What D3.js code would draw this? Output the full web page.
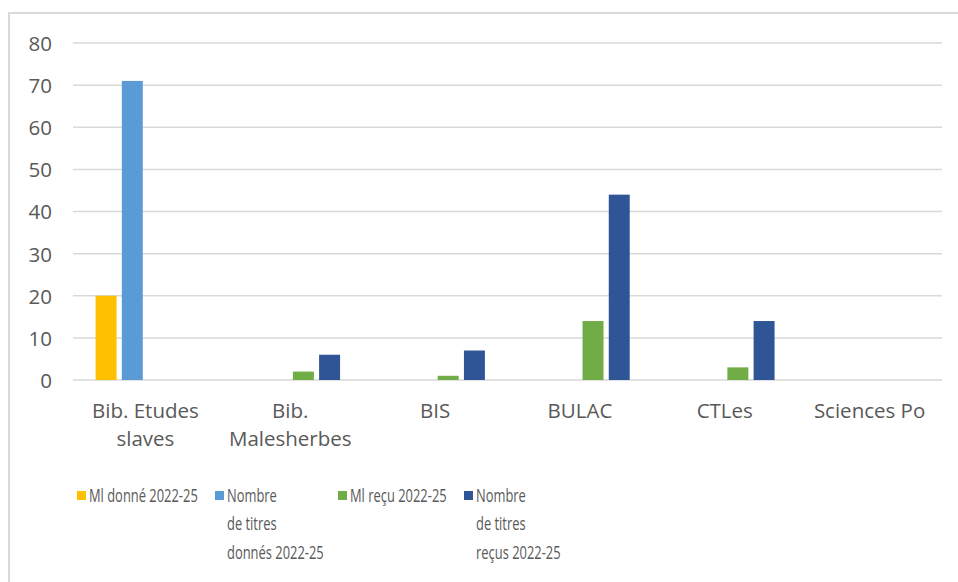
<!DOCTYPE html>
<html>
<head>
<meta charset="utf-8">
<script src="https://cdn.jsdelivr.net/npm/d3@7/dist/d3.min.js"></script>
<style>
  html, body { margin: 0; padding: 0; background: #fff; }
  svg { display: block; }
  text { font-family: "Open Sans", "Noto Sans", sans-serif; fill: #595959; }
</style>
</head>
<body>
<svg id="chart" width="958" height="582"></svg>
<script>
// ---- Data ----
const categories = ["Bib. Etudes slaves", "Bib. Malesherbes", "BIS", "BULAC", "CTLes", "Sciences Po"];
const seriesKeys = ["mlDonne", "titresDonnes", "mlRecu", "titresRecus"];
const seriesLabels = ["Ml donné 2022-25", "Nombre\nde titres\ndonnés 2022-25", "Ml reçu 2022-25", "Nombre\nde titres\nreçus 2022-25"];
const mlDonne      = [20, 0, 0, 0, 0, 0];
const titresDonnes = [71, 0, 0, 0, 0, 0];
const mlRecu       = [0, 2, 1, 14, 3, 0];
const titresRecus  = [0, 6, 7, 44, 14, 0];
const yTicks = [0, 10, 20, 30, 40, 50, 60, 70, 80];
const seriesColors = ["#FFC000", "#5B9BD5", "#70AD47", "#2F5597"];

const seriesValues = [mlDonne, titresDonnes, mlRecu, titresRecus];
const rows = categories.map((c, i) => ({
  cat: c,
  vals: seriesKeys.map((k, j) => ({ key: k, value: seriesValues[j][i], color: seriesColors[j] }))
}));

// ---- Layout ----
const svg = d3.select("#chart");
const plotLeft = 73, plotRight = 942, plotTop = 43, plotBottom = 380;

// outer chart border
svg.append("rect")
  .attr("x", 9).attr("y", 13).attr("width", 960).attr("height", 580)
  .attr("fill", "none").attr("stroke", "#D9D9D9").attr("stroke-width", 2);

const y = d3.scaleLinear().domain([0, 80]).range([plotBottom, plotTop]);
const x0 = d3.scaleBand().domain(categories).range([plotLeft, plotRight])
  .paddingInner(0.312).paddingOuter(0.156);
const x1 = d3.scaleBand().domain(seriesKeys).range([0, x0.bandwidth()])
  .paddingInner(0.2).paddingOuter(0);

// gridlines
svg.append("g").selectAll("line").data(yTicks).join("line")
  .attr("x1", plotLeft).attr("x2", plotRight)
  .attr("y1", d => y(d)).attr("y2", d => y(d))
  .attr("stroke", "#D9D9D9").attr("stroke-width", 1.5);

// y axis labels
const yAxis = d3.axisLeft(y).tickValues(yTicks).tickSize(0).tickPadding(0);
const yg = svg.append("g").attr("transform", `translate(52,0)`).call(yAxis);
yg.select(".domain").remove();
yg.selectAll("text").attr("font-size", "20.5px").attr("fill", "#595959")
  .attr("dy", "0.36em").style("font-family", '"Open Sans", sans-serif');

// bars
const groups = svg.append("g").selectAll("g").data(rows).join("g")
  .attr("transform", d => `translate(${x0(d.cat)},0)`);
groups.selectAll("rect").data(d => d.vals.filter(v => v.value > 0)).join("rect")
  .attr("x", d => x1(d.key))
  .attr("width", x1.bandwidth())
  .attr("y", d => y(d.value))
  .attr("height", d => y(0) - y(d.value))
  .attr("fill", d => d.color);

// x axis labels (wrapped)
const xAxis = d3.axisBottom(x0).tickSize(0).tickPadding(0);
const xg = svg.append("g").attr("transform", `translate(0,${plotBottom})`).call(xAxis);
xg.select(".domain").remove();
xg.selectAll("text").each(function(d) {
  const t = d3.select(this);
  t.text(null).attr("font-size", "20.5px").attr("fill", "#595959")
    .attr("y", 0).attr("dy", null)
    .style("font-family", '"Open Sans", sans-serif');
  const words = d.split(" ");
  const maxW = 140;
  let lines = [], cur = [];
  const probe = t.append("tspan");
  words.forEach(w => {
    const test = cur.concat([w]).join(" ");
    probe.text(test);
    if (probe.node().getComputedTextLength() > maxW && cur.length) {
      lines.push(cur.join(" ")); cur = [w];
    } else cur.push(w);
  });
  lines.push(cur.join(" "));
  probe.remove();
  lines.forEach((ln, i) => {
    t.append("tspan").attr("x", 0).attr("y", 38 + i * 28).text(ln);
  });
});

// legend
const legendX = [77, 215, 338, 464];
const legend = svg.append("g").selectAll("g").data(seriesLabels).join("g")
  .attr("transform", (d, i) => `translate(${legendX[i]},0)`);
legend.append("rect")
  .attr("x", 0).attr("y", 491).attr("width", 9).attr("height", 9)
  .attr("fill", (d, i) => seriesColors[i]);
legend.each(function(d) {
  const g = d3.select(this).append("g").attr("transform", "translate(12,0) scale(0.68,1)");
  d.split("\n").forEach((ln, i) => {
    g.append("text").attr("x", 0).attr("y", 502 + i * 28.5)
      .attr("font-size", "19px").text(ln);
  });
});
</script>
</body>
</html>
